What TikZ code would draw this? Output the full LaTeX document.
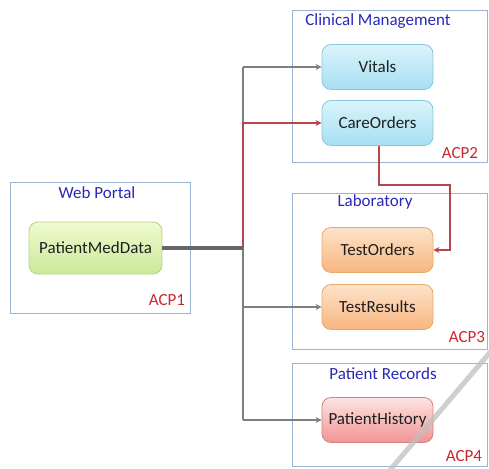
\documentclass[tikz,border=0pt]{standalone}
\usepackage{fontspec}
\setmainfont{Carlito}
\usetikzlibrary{arrows.meta}
\definecolor{frame}{HTML}{9AB4D4}
\definecolor{titleblue}{HTML}{2828B8}
\definecolor{acpred}{HTML}{C8282D}
\definecolor{linkgray}{HTML}{7F7F7F}
\definecolor{linkred}{HTML}{B5474A}
\definecolor{blueTop}{HTML}{DAF4FB}
\definecolor{blueBot}{HTML}{A6DFF2}
\definecolor{blueLine}{HTML}{88C6DC}
\definecolor{orangeTop}{HTML}{FDE3CA}
\definecolor{orangeBot}{HTML}{F8B57F}
\definecolor{orangeLine}{HTML}{E8A86E}
\definecolor{redTop}{HTML}{FDE3E3}
\definecolor{redBot}{HTML}{F19494}
\definecolor{redLine}{HTML}{D88080}
\definecolor{greenTop}{HTML}{F0FAD0}
\definecolor{greenBot}{HTML}{CBE99A}
\definecolor{greenLine}{HTML}{B2D47E}
\tikzset{
  domainframe/.style={draw=frame, line width=0.9pt},
  dtitle/.style={text=titleblue, font=\fontsize{17}{20}\selectfont, inner sep=0pt},
  acp/.style={text=acpred, font=\fontsize{17}{20}\selectfont, inner sep=0pt},
  comp/.style={rounded corners=9pt, minimum width=111pt, minimum height=45pt,
    font=\fontsize{17}{20}\selectfont, text=black!88, inner sep=0pt, line width=0.8pt},
  bluecomp/.style={comp, draw=blueLine, top color=blueTop, bottom color=blueBot},
  orangecomp/.style={comp, draw=orangeLine, top color=orangeTop, bottom color=orangeBot},
  redcomp/.style={comp, draw=redLine, top color=redTop, bottom color=redBot},
  greencomp/.style={comp, draw=greenLine, top color=greenTop, bottom color=greenBot},
  glink/.style={draw=linkgray, line width=1.4pt, -{Stealth[length=6pt,width=6pt]}},
  rlink/.style={draw=linkred, line width=1.4pt, -{Stealth[length=6pt,width=6pt]}},
}
\begin{document}
\begin{tikzpicture}[x=1pt,y=-1pt]
\useasboundingbox (0,0) rectangle (489,468);
% domain frames
\draw[domainframe] (10,182) rectangle (190,313);
\draw[domainframe] (292,10) rectangle (487,162);
\draw[domainframe] (292,193) rectangle (487,349);
\draw[domainframe] (292,363) rectangle (487,466);
% domain titles and ACP tags
\node[dtitle] (tWeb) at (97,193) {Web Portal};
\node[dtitle] (tClin) at (378,21) {Clinical Management};
\node[dtitle] (tLab) at (375,202) {Laboratory};
\node[dtitle] (tRec) at (383,374) {Patient Records};
\node[acp] (acp1) at (167,300) {ACP1};
\node[acp] (acp2) at (460,153) {ACP2};
\node[acp] (acp3) at (467,337) {ACP3};
\node[acp] (acp4) at (464,456) {ACP4};
% components
\node[greencomp, minimum width=133pt, minimum height=52pt] (pmd) at (95.5,248) {PatientMedData};
\node[bluecomp] (vit) at (377.5,67) {Vitals};
\node[bluecomp] (care) at (377.5,123) {CareOrders};
\node[orangecomp] (tord) at (377.5,250) {TestOrders};
\node[orangecomp] (tres) at (377.5,307) {TestResults};
\node[redcomp] (phist) at (377.5,420) {PatientHistory};
% distribution bus
\coordinate (hub) at (243,248);
\draw[linkgray, line width=1.4pt] (243,67) -- (243,420);
\draw[glink] (243,67) -- (vit.west);
\draw[glink] (243,307) -- (tres.west);
\draw[glink] (243,420) -- (phist.west);
\draw[rlink] (hub) -- (243,123) -- (care.west);
\draw[black!60, line width=3.5pt] (pmd.east) -- (hub);
% order flow from care orders to lab
\draw[rlink] ([xshift=1.5pt]care.south) -- (379,185) -- (450,185) -- (450,250) -- (tord.east);
% diagonal stroke
\draw[gray!50, opacity=0.75, line width=5pt] (390,470) -- (492,350);
\end{tikzpicture}
\end{document}
